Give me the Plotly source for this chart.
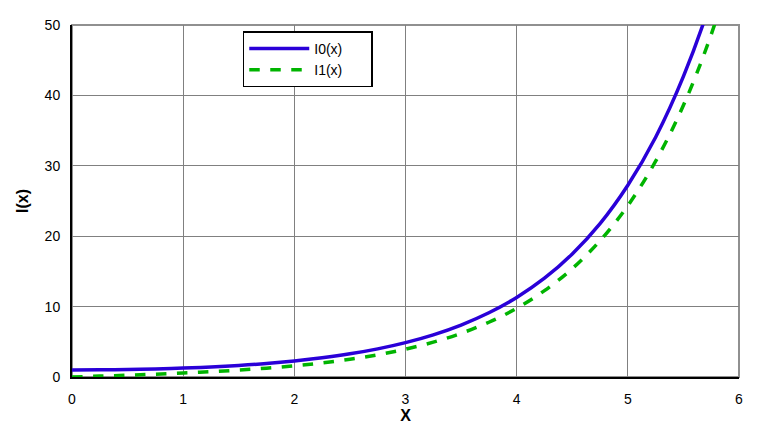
import plotly.graph_objects as go

x_vals = [0, 0.25, 0.5, 0.75, 1, 1.25, 1.5, 1.75, 2, 2.25, 2.5, 2.75, 3,
          3.25, 3.5, 3.75, 4, 4.25, 4.5, 4.75, 5, 5.25, 5.5, 5.75, 6]
i0_vals = [1.0, 1.016, 1.064, 1.146, 1.266, 1.430, 1.647, 1.920, 2.280, 2.727,
           3.290, 3.996, 4.881, 5.989, 7.378, 9.119, 11.30, 14.03, 17.48, 21.79,
           27.24, 34.06, 42.69, 53.54, 67.23]
i1_vals = [0.0, 0.126, 0.258, 0.402, 0.565, 0.755, 0.982, 1.256, 1.591, 2.004,
           2.517, 3.155, 3.953, 4.953, 6.206, 7.780, 9.759, 12.27, 15.39, 19.36,
           24.34, 30.65, 38.59, 48.65, 61.34]
x_ticks = [0, 1, 2, 3, 4, 5, 6]
y_ticks = [0, 10, 20, 30, 40, 50]

fig = go.Figure()
fig.add_trace(go.Scatter(x=x_vals, y=i0_vals, mode="lines", name="I0(x)      ",
                         line=dict(color="#2a00d8", width=3.5, shape="spline")))
fig.add_trace(go.Scatter(x=x_vals, y=i1_vals, mode="lines", name="I1(x)      ",
                         line=dict(color="#00b400", width=3.5, dash="dash", shape="spline")))

font = "Liberation Sans, Arial, sans-serif"
fig.update_layout(
    width=768, height=432,
    margin=dict(l=64, r=37, t=9, b=63),
    paper_bgcolor="white", plot_bgcolor="white",
    font=dict(family=font, size=14, color="black"),
    showlegend=True,
    legend=dict(x=0.256, y=0.982, xanchor="left", yanchor="top",
                bgcolor="white", bordercolor="black", borderwidth=1.5,
                font=dict(size=14), itemwidth=60, tracegroupgap=0),
    xaxis=dict(range=[0, 6], tickvals=x_ticks, showgrid=True, gridcolor="#808080",
               gridwidth=1, zeroline=False, showline=True, linecolor="black",
               linewidth=2, ticks="", ticklabelstandoff=8,
               title=dict(text="<b>X</b>", font=dict(size=16), standoff=2)),
    yaxis=dict(range=[0, 50], tickvals=y_ticks, showgrid=True, gridcolor="#808080",
               gridwidth=1, zeroline=False, showline=True, linecolor="black",
               linewidth=2, ticks="", ticklabelstandoff=7,
               title=dict(text="<b>I(x)</b>", font=dict(size=16), standoff=12)),
    shapes=[dict(type="rect", xref="paper", yref="paper", x0=0, y0=0, x1=1, y1=1,
                 line=dict(color="#909090", width=2), layer="below")],
)
fig.write_html("out.html")
